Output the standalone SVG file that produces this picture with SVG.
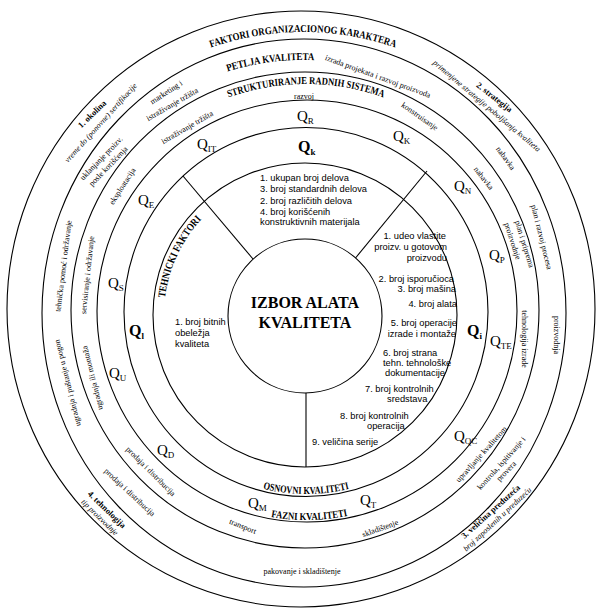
<svg xmlns="http://www.w3.org/2000/svg" width="597" height="610" viewBox="0 0 597 610">
<style>
.c{fill:none;stroke:#000;stroke-width:1.1}
.ln{stroke:#000;stroke-width:1.1}
text{fill:#000}
.t{font-family:"Liberation Serif",serif;font-size:8px;text-anchor:middle}
.ti{font-family:"Liberation Serif",serif;font-size:8px;font-style:italic;text-anchor:middle}
.tb{font-family:"Liberation Serif",serif;font-size:8.5px;font-weight:bold;text-anchor:middle}
.hd{font-family:"Liberation Serif",serif;font-weight:bold;font-size:10.5px;text-anchor:middle}
.q{font-family:"Liberation Serif",serif;font-size:15px}
.qb{font-family:"Liberation Serif",serif;font-size:16px;font-weight:bold}
.sb{font-size:9px}
.s{font-family:"Liberation Sans",sans-serif;font-size:9.3px}
.e{text-anchor:end}
.ctr{font-family:"Liberation Serif",serif;font-size:16px;font-weight:bold;text-anchor:middle}
</style>
<defs>
<path id="pFak" d="M 23 312 A 280 280 0 0 1 583 312"/>
<path id="pPet" d="M 51 312 A 252 252 0 0 1 555 312"/>
<path id="pStr" d="M 78 312 A 228 228 0 0 1 534 312"/>
<path id="pTeh" d="M 182.9 385.5 A 141 141 0 0 1 305 174"/>
<path id="pOsn" d="M 124 312 A 182 182 0 0 0 488 312"/>
<path id="pFaz" d="M 98 312 A 208 208 0 0 0 514 312"/>
</defs>
<rect width="597" height="610" fill="#fff"/>

<g id="circles">
<ellipse class="c" cx="301" cy="309" rx="294" ry="298"/>
<ellipse class="c" cx="304" cy="313" rx="262" ry="274"/>
<ellipse class="c" cx="305" cy="310" rx="234" ry="238"/>
<ellipse class="c" cx="307" cy="311" rx="210" ry="211"/>
<ellipse class="c" cx="306" cy="312" rx="182" ry="184.5"/>
<ellipse class="c" cx="305" cy="315" rx="152" ry="152"/>
</g>

<g id="connectors">
<line class="ln" x1="253" y1="259" x2="183" y2="176"/>
<line class="ln" x1="355.5" y1="258" x2="427" y2="171"/>
<line class="ln" x1="306" y1="393" x2="306" y2="467"/>
</g>

<g id="ring-organizacioni">
<text class="hd"><textPath href="#pFak" startOffset="50%" textLength="188" lengthAdjust="spacingAndGlyphs">FAKTORI ORGANIZACIONOG KARAKTERA</textPath></text>
<text class="tb" transform="translate(92 114) rotate(-44)" y="3">1. okolina</text>
<text class="ti" transform="translate(100.5 122.5) rotate(-48)" y="3">vreme do (ponovne) sertifikacije</text>
<text class="tb" transform="translate(494.5 97) rotate(38)" y="3">2. strategija</text>
<text class="ti" transform="translate(487 105.5) rotate(40)" y="3">primenjene strategije poboljšanja kvaliteta</text>
<text class="tb" transform="translate(490.5 511.5) rotate(-42)" y="3">3. veličina preduzeća</text>
<text class="ti" transform="translate(497 519) rotate(-43)" y="3">broj zaposlenih u preduzeću</text>
<text class="tb" transform="translate(107 509.5) rotate(44)" y="3">4. tehnologija</text>
<text class="ti" transform="translate(100 517) rotate(44)" y="3">tip proizvodnje</text>
</g>

<g id="ring-petlja">
<text class="hd"><textPath href="#pPet" startOffset="363" textLength="88" lengthAdjust="spacingAndGlyphs">PETLJA KVALITETA</textPath></text>
<text class="t" transform="translate(166 92) rotate(-33)" y="3">marketing i</text>
<text class="t" transform="translate(172 104) rotate(-30)" y="3">istraživanje tržišta</text>
<text class="t" transform="translate(378 76) rotate(20)" y="3">izrada projekata i razvoj proizvoda</text>
<text class="t" transform="translate(506 158) rotate(54)" y="3">nabavka</text>
<text class="t" transform="translate(542 237) rotate(76)" y="3">plan i razvoj procesa</text>
<text class="t" transform="translate(557 335) rotate(90)" y="3">proizvodnja</text>
<text class="t" transform="translate(501 463) rotate(-48)" y="3">kontrola, ispitivanje i</text>
<text class="t" transform="translate(506 471) rotate(-46)" y="3">provera</text>
<text class="t" transform="translate(302 571)" y="3">pakovanje i skladištenje</text>
<text class="t" transform="translate(130 492) rotate(43)" y="3">prodaja i distribucija</text>
<text class="t" transform="translate(67 383) rotate(-104)" y="3">ugradnja i puštanje u pogon</text>
<text class="t" transform="translate(63 266) rotate(-83)" y="3">tehnička pomoć i održavanje</text>
<text class="t" transform="translate(101 158) rotate(-46)" y="3">uklanjanje proizv.</text>
<text class="t" transform="translate(108 166) rotate(-46)" y="3">posle korišćenja</text>
</g>

<g id="ring-strukturiranje">
<text class="hd"><textPath href="#pStr" startOffset="50%" textLength="158" lengthAdjust="spacingAndGlyphs">STRUKTURIRANJE RADNIH SISTEMA</textPath></text>
<text class="t" transform="translate(187 127) rotate(-30)" y="3">istraživanje tržišta</text>
<text class="t" transform="translate(304 95.5)" y="3">razvoj</text>
<text class="t" transform="translate(420 116) rotate(35)" y="3">konstruisanje</text>
<text class="t" transform="translate(484 178) rotate(52)" y="3">nabavka</text>
<text class="t" transform="translate(525 244) rotate(73)" y="3">plan i priprema</text>
<text class="t" transform="translate(513 241) rotate(72)" y="3">proizvodnje</text>
<text class="t" transform="translate(525 339) rotate(90)" y="3">tehnologija izrade</text>
<text class="t" transform="translate(481 454) rotate(-48)" y="3">upravljanje kvalitetom</text>
<text class="t" transform="translate(380 528) rotate(-20)" y="3">skladištenje</text>
<text class="t" transform="translate(243 526) rotate(22)" y="3">transport</text>
<text class="t" transform="translate(151 471) rotate(45)" y="3">prodaja i distribucija</text>
<text class="t" transform="translate(92 378) rotate(-104)" y="3">ugradnja ili montaža</text>
<text class="t" transform="translate(87 275) rotate(-84)" y="3">servisiranje i održavanje</text>
<text class="t" transform="translate(122 186) rotate(-57)" y="3">eksploatacija</text>
</g>

<g id="ring-fazni">
<text class="hd"><textPath href="#pFaz" startOffset="330" textLength="77" lengthAdjust="spacingAndGlyphs">FAZNI KVALITETI</textPath></text>
<text class="q" x="197" y="149">Q<tspan class="sb" dy="3">IT</tspan></text>
<text class="q" x="297" y="121">Q<tspan class="sb" dy="3">R</tspan></text>
<text class="q" x="393" y="141">Q<tspan class="sb" dy="3">K</tspan></text>
<text class="q" x="454" y="191">Q<tspan class="sb" dy="3">N</tspan></text>
<text class="q" x="489" y="260">Q<tspan class="sb" dy="3">P</tspan></text>
<text class="q" x="490" y="346">Q<tspan class="sb" dy="3">TE</tspan></text>
<text class="q" x="454" y="441">Q<tspan class="sb" dy="3">QC</tspan></text>
<text class="q" x="360" y="505">Q<tspan class="sb" dy="3">T</tspan></text>
<text class="q" x="248" y="508">Q<tspan class="sb" dy="3">M</tspan></text>
<text class="q" x="157" y="455">Q<tspan class="sb" dy="3">D</tspan></text>
<text class="q" x="109" y="378">Q<tspan class="sb" dy="3">U</tspan></text>
<text class="q" x="108" y="288">Q<tspan class="sb" dy="3">S</tspan></text>
<text class="q" x="138" y="205">Q<tspan class="sb" dy="3">E</tspan></text>
</g>

<g id="ring-osnovni">
<text class="hd"><textPath href="#pOsn" startOffset="50%" textLength="87" lengthAdjust="spacingAndGlyphs">OSNOVNI KVALITETI</textPath></text>
<text class="qb" x="298" y="152">Q<tspan class="sb" dy="3">k</tspan></text>
<text class="qb" x="467" y="336">Q<tspan class="sb" dy="3">i</tspan></text>
<text class="qb" x="129" y="336">Q<tspan class="sb" dy="3">l</tspan></text>
</g>

<g id="sector-konstruktivni">
<text class="s" x="260" y="180.5">1. ukupan broj delova</text>
<text class="s" x="260" y="191.5">3. broj standardnih delova</text>
<text class="s" x="260" y="204">2. broj različitih delova</text>
<text class="s" x="260" y="214.5">4. broj korišćenih</text>
<text class="s" x="260" y="224.5">konstruktivnih materijala</text>
</g>

<g id="sector-tehnicki">
<text class="hd"><textPath href="#pTeh" startOffset="135" textLength="88" lengthAdjust="spacingAndGlyphs">TEHNICKI FAKTORI</textPath></text>
<text class="s" x="175" y="325">1. broj bitnih</text>
<text class="s" x="175" y="336">obeležja</text>
<text class="s" x="175" y="346.5">kvaliteta</text>
</g>

<g id="sector-tehnoloski">
<text class="s e" x="446" y="238.5">1. udeo vlastite</text>
<text class="s e" x="447" y="249.5">proizv. u gotovom</text>
<text class="s e" x="447" y="260.5">proizvodu</text>
<text class="s e" x="454" y="281.5">2. broj isporučioca</text>
<text class="s e" x="456" y="292">3. broj mašina</text>
<text class="s e" x="457" y="306.5">4. broj alata</text>
<text class="s e" x="457" y="325.5">5. broj operacije</text>
<text class="s e" x="456" y="336.5">izrade i montaže</text>
<text class="s" x="383" y="355.5">6. broj strana</text>
<text class="s" x="383" y="365.5">tehn. tehnološke</text>
<text class="s" x="385" y="375.5">dokumentacije</text>
<text class="s" x="365" y="391.5">7. broj kontrolnih</text>
<text class="s" x="387" y="401.5">sredstava</text>
<text class="s" x="340" y="418.5">8. broj kontrolnih</text>
<text class="s" x="367" y="428.5">operacija</text>
<text class="s" x="312" y="444.5">9. veličina serije</text>
</g>

<g id="center">
<ellipse class="c" cx="305" cy="316" rx="77" ry="77" fill="#fff"/>
<text class="ctr" x="305" y="308">IZBOR ALATA</text>
<text class="ctr" x="305" y="328">KVALITETA</text>
</g>
</svg>
